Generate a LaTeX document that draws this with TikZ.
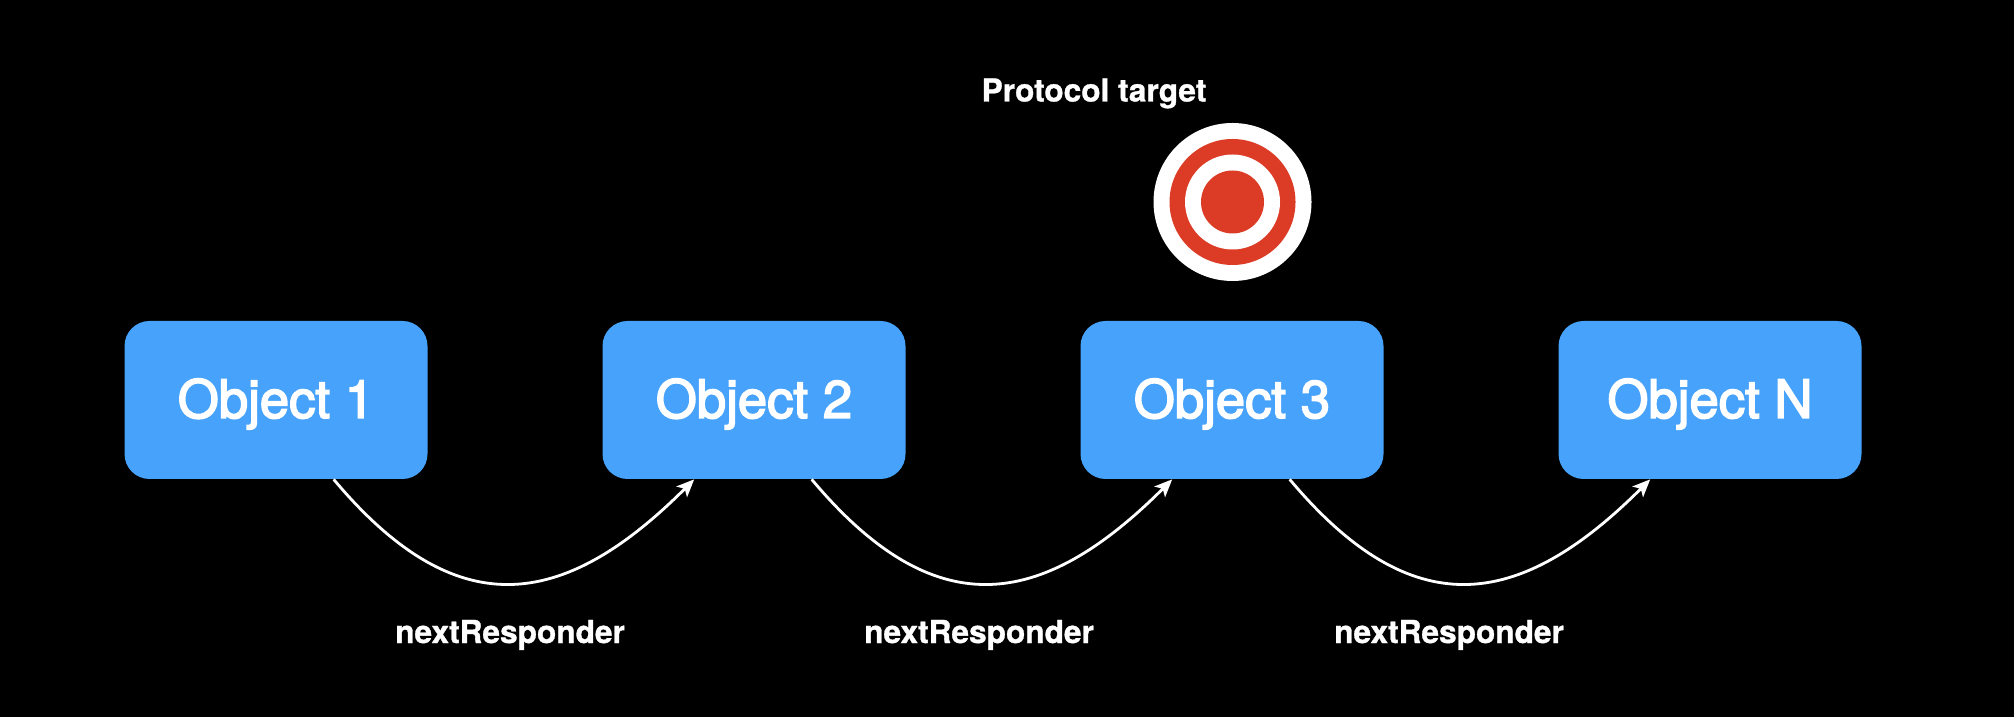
\documentclass[tikz,border=0pt]{standalone}
\usepackage{fontspec}
\setmainfont{TeX Gyre Heros}
\newfontfamily\objfont[FakeBold=3]{TeX Gyre Heros}
\newfontfamily\lblfont[FakeBold=1]{TeX Gyre Heros Bold}
\usetikzlibrary{arrows.meta}
\definecolor{boxblue}{HTML}{46A2FA}
\definecolor{ringred}{HTML}{DC3B26}
\tikzset{
    objbox/.style={draw=none, fill=boxblue, rounded corners=0.5cm, minimum width=6.06cm, minimum height=3.16cm,
        text=white, font=\objfont\fontsize{30}{32}\selectfont, text height=20.4pt, text depth=0pt, inner sep=0pt},
    lbl/.style={text=white, font=\lblfont\fontsize{18}{20}\selectfont, anchor=base, inner sep=0pt},
    ring/.style={circle, draw=none, inner sep=0pt},
    link/.style={draw=white, line width=1.6pt, -{Stealth[length=10pt, width=8.5pt, inset=2.4pt]}}
}
\begin{document}
\begin{tikzpicture}
    \useasboundingbox (0,0) rectangle (40.28,14.32);
    \fill[black] (-0.1,-0.1) rectangle (40.38,14.42);
    % objects
    \node[objbox] (obj1) at (5.52,6.32) {Object 1};
    \node[objbox] (obj2) at (15.08,6.32) {Object 2};
    \node[objbox] (obj3) at (24.64,6.32) {Object 3};
    \node[objbox] (objn) at (34.2,6.32) {Object N};
    % target
    \node[ring, fill=white, minimum size=3.16cm] (ringa) at (24.65,10.28) {};
    \node[ring, fill=ringred, minimum size=2.52cm] (ringb) at (ringa.center) {};
    \node[ring, fill=white, minimum size=1.9cm] (ringc) at (ringa.center) {};
    \node[ring, fill=ringred, minimum size=1.26cm] (ringd) at (ringa.center) {};
    \node[lbl] (target) at (21.88,12.29) {Protocol target};
    % links
    \draw[link] (obj1.-54.7) to[out=-50, in=-135, looseness=1.34] (obj2.-127.9);
    \draw[link] (obj2.-54.7) to[out=-50, in=-135, looseness=1.34] (obj3.-127.9);
    \draw[link] (obj3.-54.7) to[out=-50, in=-135, looseness=1.34] (objn.-127.9);
    \node[lbl] (next1) at (10.2,1.46) {nextResponder};
    \node[lbl] (next2) at (19.58,1.46) {nextResponder};
    \node[lbl] (next3) at (28.98,1.46) {nextResponder};
\end{tikzpicture}
\end{document}
